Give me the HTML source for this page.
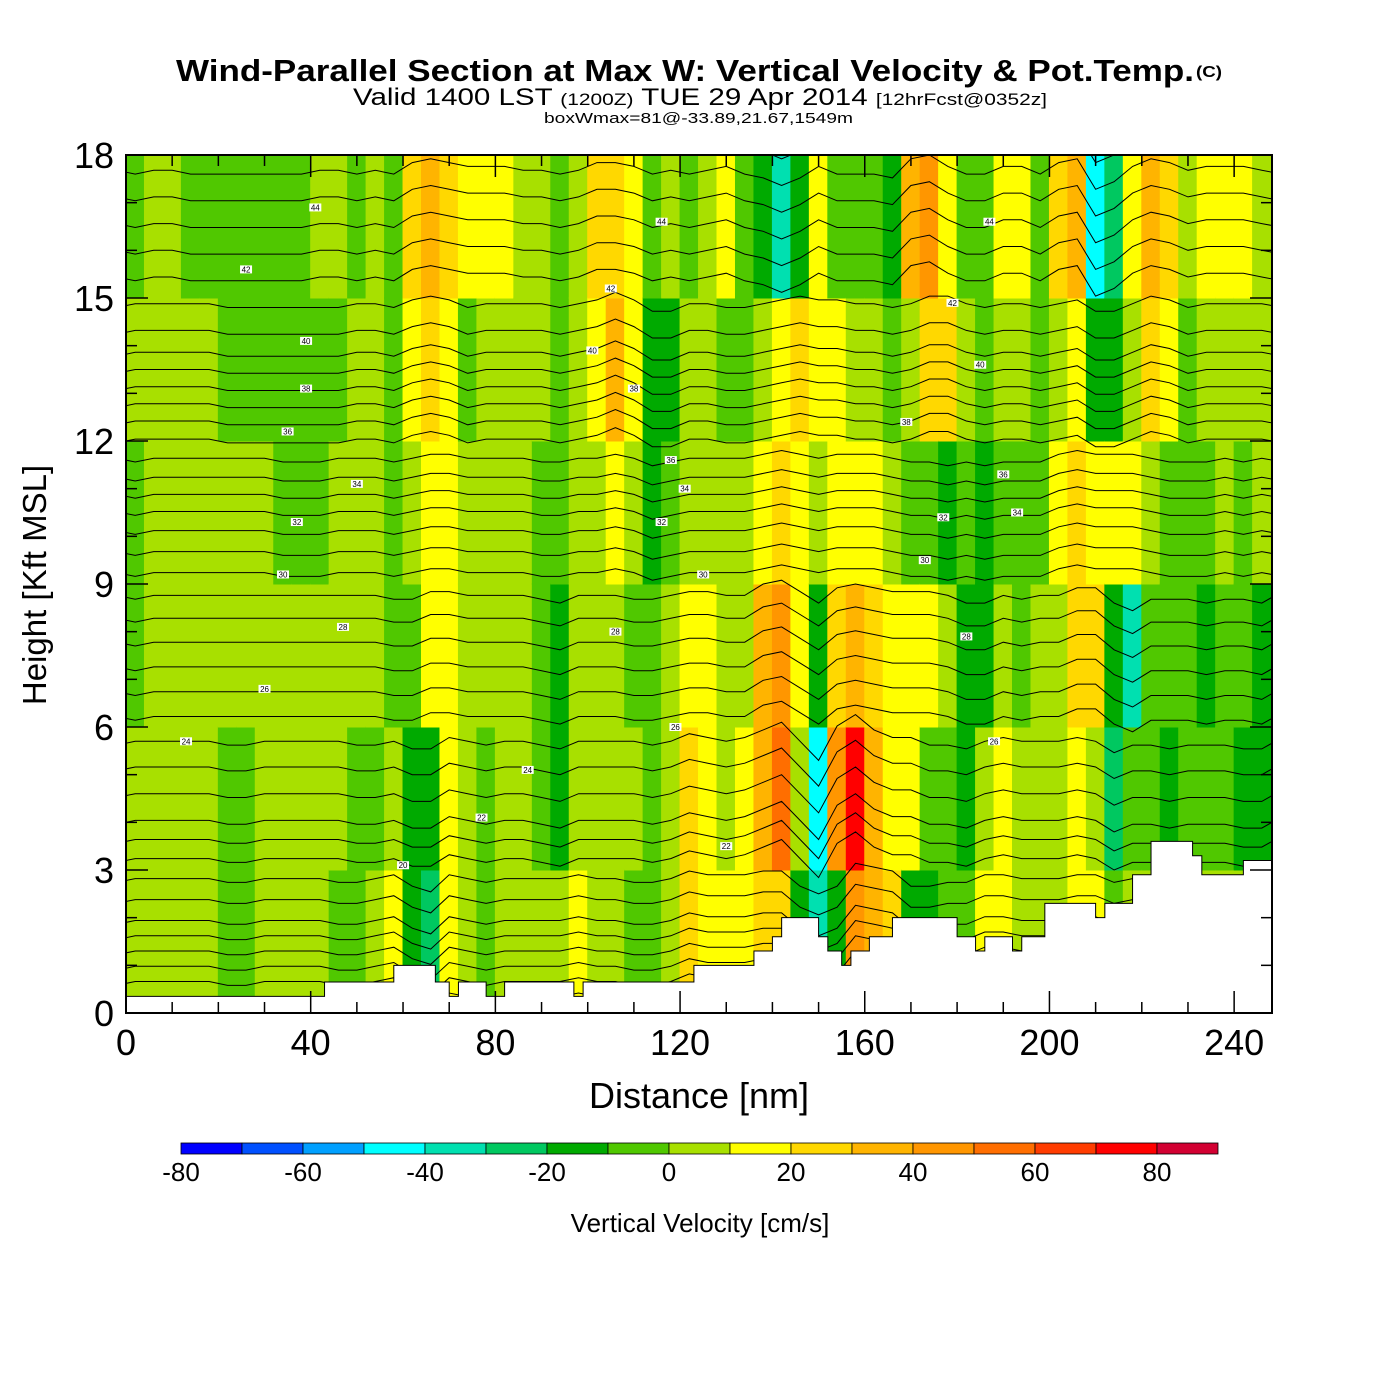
<!DOCTYPE html>
<html><head><meta charset="utf-8"><style>
html,body{margin:0;padding:0;background:#fff;}
svg{display:block;font-family:"Liberation Sans",sans-serif;}
</style></head><body>
<svg id="chart" width="1400" height="1400" viewBox="0 0 1400 1400" xmlns="http://www.w3.org/2000/svg">
<rect width="1400" height="1400" fill="#fff"/>
<text x="176" y="81" font-size="31" font-weight="bold" textLength="1018" lengthAdjust="spacingAndGlyphs">Wind-Parallel Section at Max W: Vertical Velocity &amp; Pot.Temp.</text>
<text x="1196" y="77" font-size="16" font-weight="bold" textLength="26" lengthAdjust="spacingAndGlyphs">(C)</text>
<text x="353" y="105" font-size="24" textLength="694" lengthAdjust="spacingAndGlyphs">Valid 1400 LST <tspan font-size="17">(1200Z)</tspan> TUE 29 Apr 2014 <tspan font-size="17">[12hrFcst@0352z]</tspan></text>
<text x="544" y="123" font-size="15" textLength="309" lengthAdjust="spacingAndGlyphs">boxWmax=81@-33.89,21.67,1549m</text>
<defs><clipPath id="pc"><rect x="126" y="155" width="1146" height="858"/></clipPath></defs>
<g id="field" clip-path="url(#pc)"></g>
<g id="isen" clip-path="url(#pc)"></g>
<g id="terrain" clip-path="url(#pc)"></g>
<g id="labels"></g>
<rect x="126" y="155" width="1146" height="858" fill="none" stroke="#000" stroke-width="2"/>
<g id="axes"></g>
<text x="699" y="1108" font-size="36" text-anchor="middle">Distance [nm]</text>
<text transform="translate(46,585) rotate(-90)" font-size="33" text-anchor="middle">Height [Kft MSL]</text>
<g id="cbar"></g>
<text x="700" y="1232" font-size="26" text-anchor="middle">Vertical Velocity [cm/s]</text>
</svg>
<script>
const NS="http://www.w3.org/2000/svg";
// ---- data ----
const levelEdges=[-80,-70,-60,-50,-40,-30,-20,-10,0,10,20,30,40,50,60,70,80,90];
const levelColors=["#0000ff","#0050ff","#00a0ff","#00ffff","#00e0b0","#00c860","#00aa00","#50c800","#a8e000","#ffff00","#ffd800","#ffb400","#ff9600","#ff6e00","#ff3c00","#ff0000","#d20032"];
const cbTicks=[-80,-60,-40,-20,0,20,40,60,80];
const xTicks=[0,40,80,120,160,200,240];
const yTicks=[0,3,6,9,12,15,18];
const colWidthNm=4;
const bandEdges=[0,3,6,9,12,15,18];
// vertical velocity (cm/s) per 4-nm column: [0-3,3-6,6-9,9-12,12-15,15-18 kft]
const wColumns=[
[5,5,-5,-5,5,-5],[5,5,5,5,5,5],[5,5,5,5,5,5],[5,5,5,5,5,-5],[5,5,5,5,5,-5],
[-5,-5,5,5,-5,-5],[-5,-5,5,5,-5,-5],[5,5,5,5,-5,-5],[5,5,5,-5,-5,-5],[5,5,5,-5,-5,-5],
[5,5,5,-5,-5,5],[-5,5,5,5,-5,5],[-5,-5,5,5,5,-5],[5,-5,5,5,5,5],[15,5,-5,-5,-5,-5],
[-15,-15,-5,5,15,25],[-30,-15,15,15,25,35],[15,15,15,15,15,25],[5,5,5,5,-5,15],[-5,-5,5,5,5,15],
[5,5,5,5,5,15],[5,5,5,5,5,5],[5,-5,-5,-5,5,5],[5,-15,-15,-5,-5,-5],[15,5,5,5,5,5],
[5,5,5,5,15,25],[5,5,5,15,35,25],[-5,5,-5,5,15,15],[-5,-5,-5,-15,-15,-5],[5,5,5,-5,-15,5],
[25,25,15,5,5,-5],[15,15,15,5,5,5],[15,5,5,5,-5,15],[15,15,5,5,-5,-5],[25,35,35,15,5,-15],
[25,55,45,25,15,-35],[-15,5,15,15,25,-15],[-35,-45,-15,5,15,15],[-15,45,25,15,15,-5],[45,75,35,15,5,-5],
[35,35,25,15,5,-5],[25,15,15,5,-5,-15],[-15,15,15,-5,5,35],[-15,-5,15,-5,25,45],[-5,-5,5,-15,25,15],
[-5,-15,-15,-5,5,-5],[15,5,-15,-15,-5,-5],[15,15,5,-5,5,15],[5,5,-5,-5,5,15],[5,5,5,-5,-5,-5],
[5,5,5,15,5,25],[15,15,25,25,15,35],[15,5,25,15,-15,-45],[-5,-25,-15,15,-15,-25],[5,-5,-35,15,5,15],
[5,-5,-5,5,25,35],[5,-15,-5,-5,15,25],[5,-5,-5,-5,-5,5],[5,-5,-15,-5,5,15],[5,-5,-5,5,5,15],
[5,-15,-5,-5,5,15],[5,-15,-15,5,5,5]];
// terrain steps: start nm, height kft
const terrainX=[0,43,58,67,70,72,78,82,97,99,123,136,140,142,150,152,155,157,161,166,180,184,186,192,194,199,210,212,218,222,231,233,242];
const terrainH=[0.35,0.65,1.0,0.65,0.35,0.65,0.35,0.65,0.35,0.65,1.0,1.3,1.6,2.0,1.6,1.3,1.0,1.3,1.6,2.0,1.6,1.3,1.6,1.3,1.6,2.3,2.0,2.3,2.9,3.6,3.3,2.9,3.2];
// potential temperature reference heights
const thetaRef=[14,18,20,22,24,26,28,30,32,34,36,38,40,42,44,46];
const thetaHgt=[0.3,1.9,3.0,4.0,5.4,6.7,8.0,9.2,10.3,11.2,12.2,13.1,14.0,15.4,16.8,18.2];
const labelVals=["44","42","40","38","36","34","32","30","28","26","24","44","42","40","38","36","34","32","30","28","26","24","22","20","22","44","42","40","38","36","34","32","30","28","26"];
const labelNm=[41,26,39,39,35,50,37,34,47,30,13,116,105,101,110,118,121,116,125,106,119,87,130,60,77,187,179,185,169,190,193,177,173,182,188];
const labelKft=[16.9,15.6,14.1,13.1,12.2,11.1,10.3,9.2,8.1,6.8,5.7,16.6,15.2,13.9,13.1,11.6,11.0,10.3,9.2,8.0,6.0,5.1,3.5,3.1,4.1,16.6,14.9,13.6,12.4,11.3,10.5,10.4,9.5,7.9,5.7];
// ---- axes functions ----
const X0=126,X1=1272,Y0=1013,Y1=155;
const xs=nm=>X0+(nm/248.2)*(X1-X0);
const ys=k=>Y0-(k/18)*(Y0-Y1);
function colorFor(v){for(let i=0;i<levelColors.length;i++){if(v<levelEdges[i+1])return levelColors[i];}return levelColors[levelColors.length-1];}
function mk(tag,attrs,parent){const e=document.createElementNS(NS,tag);for(const k in attrs)e.setAttribute(k,attrs[k]);parent.appendChild(e);return e;}
const field=document.getElementById('field');
wColumns.forEach((col,c)=>{
  col.forEach((v,b)=>{
    const r=mk('rect',{x:xs(c*colWidthNm)-0.5,y:ys(bandEdges[b+1])-0.5,width:xs((c+1)*colWidthNm)-xs(c*colWidthNm)+1,height:ys(bandEdges[b])-ys(bandEdges[b+1])+1,fill:colorFor(v)},field);
    
    
  });
});
// isentropes
function hOfTheta(t){for(let i=0;i<thetaRef.length-1;i++){if(t<=thetaRef[i+1]){const f=(t-thetaRef[i])/(thetaRef[i+1]-thetaRef[i]);return thetaHgt[i]+f*(thetaHgt[i+1]-thetaHgt[i]);}}return thetaHgt[thetaHgt.length-1];}
const isen=document.getElementById('isen');
for(let t=14;t<=46;t+=0.8){
  const h=hOfTheta(t);let pts=[];
  wColumns.forEach((col,c)=>{const b=Math.min(5,Math.max(0,Math.floor(h/3)));const hh=h+col[b]*0.008;pts.push(xs(c*colWidthNm+2).toFixed(1)+','+ys(hh).toFixed(1));});
  pts.unshift(X0+','+ys(h).toFixed(1));pts.push(X1+','+ys(h).toFixed(1));
  const p=mk('polyline',{points:pts.join(' '),fill:'none',stroke:'#000','stroke-width':1},isen);
  
  
}
// terrain
const ter=document.getElementById('terrain');
let d='M'+X0+','+Y0;
terrainX.forEach((x,i)=>{const xe=i<terrainX.length-1?terrainX[i+1]:249;d+=' L'+xs(x)+','+ys(terrainH[i])+' L'+xs(xe)+','+ys(terrainH[i]);});
d+=' L'+X1+','+Y0+' Z';
const tp=mk('path',{d:d,fill:'#fff',stroke:'#000','stroke-width':1},ter);


// labels
const lab=document.getElementById('labels');
labelVals.forEach((s,i)=>{
  const x=xs(labelNm[i]),y=ys(labelKft[i]);
  const r=mk('rect',{x:x-6,y:y-4,width:12,height:8,fill:'#fff'},lab);
  
  
  const t=mk('text',{x:x,y:y+3,'font-size':8,'text-anchor':'middle'},lab);t.textContent=s;
  
  
});
// axes
const ax=document.getElementById('axes');
for(let k=0;k<=18;k++){const major=k%3===0;const L=major?22:11;const y=ys(k);
  const a=mk('line',{x1:X0,y1:y,x2:X0+L,y2:y,stroke:'#000','stroke-width':1.5},ax);
  const b=mk('line',{x1:X1,y1:y,x2:X1-L,y2:y,stroke:'#000','stroke-width':1.5},ax);}
yTicks.forEach(k=>{const t=mk('text',{x:114,y:ys(k)+13,'font-size':36,'text-anchor':'end'},ax);t.textContent=k;});
for(let n=0;n<=240;n+=10){const major=n%40===0;const L=major?22:11;const x=xs(n);
  const a=mk('line',{x1:x,y1:Y0,x2:x,y2:Y0-L,stroke:'#000','stroke-width':1.5},ax);
  const b=mk('line',{x1:x,y1:Y1,x2:x,y2:Y1+L,stroke:'#000','stroke-width':1.5},ax);}
xTicks.forEach(n=>{const t=mk('text',{x:xs(n),y:1055,'font-size':36,'text-anchor':'middle'},ax);t.textContent=n;});
// colorbar
const cb=document.getElementById('cbar');
const cbx=v=>181+(v+80)/170*1037;
levelColors.forEach((c,i)=>{const r=mk('rect',{x:cbx(levelEdges[i]),y:1143,width:cbx(levelEdges[i+1])-cbx(levelEdges[i]),height:11,fill:c,stroke:'#000','stroke-width':0.8},cb);});
cbTicks.forEach(v=>{const t=mk('text',{x:cbx(v),y:1181,'font-size':26,'text-anchor':'middle'},cb);t.textContent=v;});
</script>
</body></html>
